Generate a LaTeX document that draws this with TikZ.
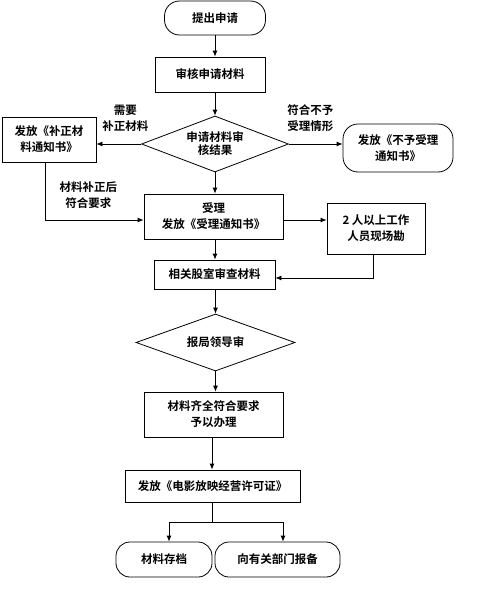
\documentclass[tikz,border=0pt]{standalone}
\usepackage{fontspec}
\setmainfont{Noto Sans CJK SC}[BoldFont={Noto Sans CJK SC Bold}]
\usepackage{tikz}
\usetikzlibrary{arrows.meta,shapes.geometric}

\begin{document}
\begin{tikzpicture}[x=1pt, y=-1pt, every node/.style={font=\fontsize{11.5}{16}\selectfont\bfseries, align=center}, >={Latex[length=6pt, width=5pt]}, line width=0.8pt,
	proc/.style={draw, inner sep=0pt},
	term/.style={draw, rounded corners=15pt, inner sep=0pt},
	cond/.style={draw, diamond, inner sep=0pt},
	lbl/.style={font=\fontsize{11.5}{16}\selectfont\bfseries, inner sep=1pt}]
	\useasboundingbox (0,0) rectangle (499,589);
	\node[term, minimum width=101pt, minimum height=34pt] (start) at (215,18) {提出申请};
	\node[proc, minimum width=110pt, minimum height=35pt] (check) at (210,74.5) {审核申请材料};
	\node[cond, aspect=2.6, minimum width=147pt, minimum height=56pt, font=\fontsize{11.5}{13}\selectfont\bfseries] (res) at (215,144) {申请材料审\\核结果};
	\node[proc, minimum width=94pt, minimum height=45pt] (fix) at (49,139.5) {发放《补正材\\料通知书》};
	\node[term, minimum width=110pt, minimum height=48pt] (rej) at (398,148) {发放《不予受理\\通知书》};
	\node[proc, minimum width=139pt, minimum height=45pt] (acc) at (213.5,216.5) {受理\\发放《受理通知书》};
	\node[proc, minimum width=98pt, minimum height=51pt] (site) at (376,228.5) {2 人以上工作\\人员现场勘};
	\node[proc, minimum width=121pt, minimum height=29pt] (room) at (214.5,274.5) {相关股室审查材料};
	\node[cond, aspect=2.8, minimum width=159pt, minimum height=57pt] (lead) at (215.5,342.5) {报局领导审};
	\node[proc, minimum width=139pt, minimum height=45pt] (ok) at (213.5,414.5) {材料齐全符合要求\\予以办理};
	\node[proc, minimum width=175pt, minimum height=32pt] (lic) at (212.5,486) {发放《电影放映经营许可证》};
	\node[term, rounded corners=14pt, minimum width=96pt, minimum height=35pt] (arch) at (164,559.5) {材料存档};
	\node[term, rounded corners=14pt, minimum width=125pt, minimum height=35pt] (rep) at (277.5,559.5) {向有关部门报备};
	\coordinate (fork) at (212,522);
	\draw[->] (start.south) -- (start.south |- check.north);
	\draw[->] (check.south -| res.north) -- (res.north);
	\draw[->] (res.west) -- (res.west -| fix.east) node[lbl, pos=0.35, above=11pt] {需要\\补正材料};
	\draw[->] (res.east) -- (res.east -| rej.west) node[lbl, pos=0.4, above=11pt] {符合不予\\受理情形};
	\draw[->] (res.south) -- (res.south |- acc.north);
	\draw[->] ([xshift=-4pt]fix.south) |- ([yshift=-3.5pt]acc.west) node[lbl, pos=0.72, above=10pt] {材料补正后\\符合要求};
	\draw[->] ([yshift=-3.5pt]acc.east) -- ([yshift=-3.5pt]acc.east -| site.west);
	\draw[->] (acc.south -| res.south) -- (room.north -| res.south);
	\draw[->] ([xshift=-3pt]site.south) |- ([yshift=-3.5pt]room.east);
	\draw[->] (room.south -| lead.north) -- (lead.north);
	\draw[->] (lead.south) -- (lead.south |- ok.north);
	\draw[->] (ok.south -| fork) -- (lic.north -| fork);
	\draw (lic.south -| fork) -- (fork);
	\draw[->] (fork) -| ([xshift=5pt]arch.north);
	\draw[->] (fork) -| ([xshift=5.5pt]rep.north);
\end{tikzpicture}
\end{document}
